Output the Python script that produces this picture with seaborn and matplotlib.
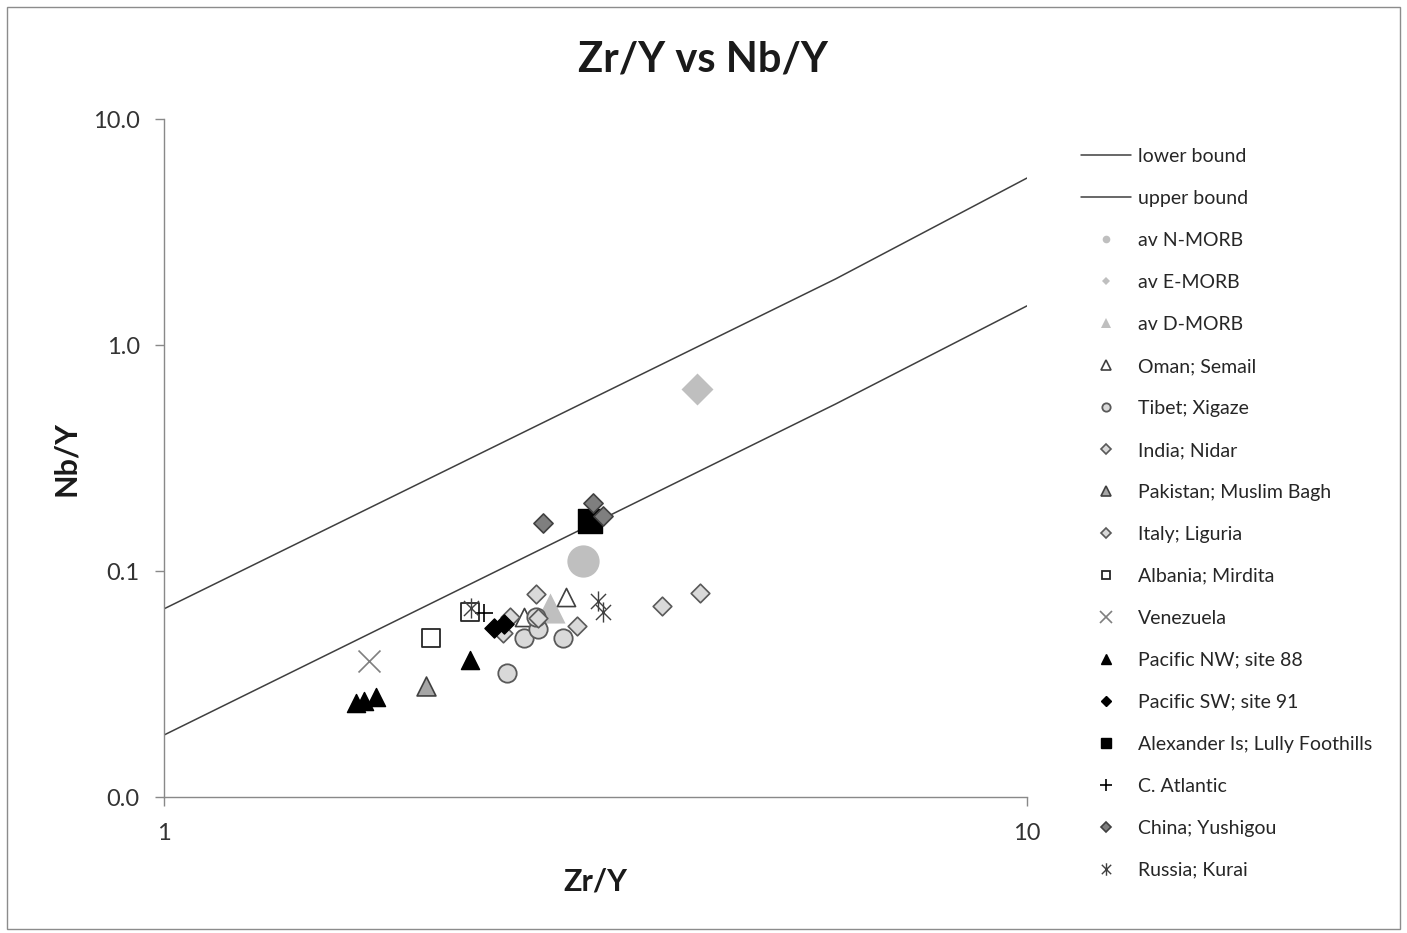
import matplotlib
matplotlib.use('Agg')
import matplotlib.pyplot as plt
import seaborn as sns
from matplotlib.lines import Line2D
from matplotlib.path import Path
from matplotlib.patches import Rectangle
import matplotlib.ticker as mticker

# ---------------- data ----------------
lower_x = [1, 6, 10]
lower_y = [0.0188, 0.548, 1.49]
upper_x = [1, 6, 10]
upper_y = [0.068, 1.96, 5.48]

nmorb_x = [3.06]
nmorb_y = [0.111]
emorb_x = [4.15]
emorb_y = [0.639]
dmorb_x = [2.80]
dmorb_y = [0.0686]
oman_x = [2.61, 2.92]
oman_y = [0.0626, 0.0767]
tibet_x = [2.61, 2.71, 2.70, 2.90, 2.50]
tibet_y = [0.0505, 0.0554, 0.0626, 0.0505, 0.0354]
india_x = [2.47, 2.52, 2.70]
india_y = [0.0532, 0.0626, 0.0791]
pakistan_x = [2.01]
pakistan_y = [0.031]
italy_x = [2.71, 3.01, 3.78, 4.18]
italy_y = [0.0619, 0.0571, 0.070, 0.0799]
albania_x = [2.04, 2.26]
albania_y = [0.0505, 0.0659]
venezuela_x = [1.73]
venezuela_y = [0.040]
pacnw_x = [1.669, 1.705, 1.76, 2.26]
pacnw_y = [0.026, 0.0266, 0.0277, 0.0404]
pacsw_x = [2.41, 2.48]
pacsw_y = [0.056, 0.0583]
alexander_x = [3.12]
alexander_y = [0.166]
atlantic_x = [2.35]
atlantic_y = [0.0650]
china_x = [2.75, 3.14, 3.23]
china_y = [0.163, 0.200, 0.175]
russia_x = [2.27, 3.18, 3.23]
russia_y = [0.0686, 0.0737, 0.0659]

y_ticks = [0.01, 0.1, 1, 10]
y_tick_labels = ["0.0", "0.1", "1.0", "10.0"]
x_ticks = [1, 10]
x_tick_labels = ["1", "10"]

# ---------------- style ----------------
sns.set_style('white')
plt.rcParams['font.family'] = ['Lato', 'DejaVu Sans']

W, H = 1407, 933
fig = plt.figure(figsize=(W / 100, H / 100), dpi=100)
ax = fig.add_axes([164 / W, 1 - 797 / H, 863 / W, 678 / H])
ax.set_xscale('log')
ax.set_yscale('log')

asterisk = Path([(0, -1), (0, 1), (-0.75, -0.75), (0.75, 0.75), (-0.75, 0.75), (0.75, -0.75)],
                [Path.MOVETO, Path.LINETO] * 3)

LINE_C = '#3f3f3f'
sns.lineplot(x=lower_x, y=lower_y, color=LINE_C, lw=1.1, ax=ax, estimator=None, sort=False)
sns.lineplot(x=upper_x, y=upper_y, color=LINE_C, lw=1.1, ax=ax, estimator=None, sort=False)

series = [
    # label, x, y, marker, s, face, edge, lw, legend ms
    ("av N-MORB", nmorb_x, nmorb_y, 'o', 540, '#bfbfbf', '#bfbfbf', 0, 5.5),
    ("av E-MORB", emorb_x, emorb_y, 'D', 265, '#bfbfbf', '#bfbfbf', 0, 4.5),
    ("av D-MORB", dmorb_x, dmorb_y, '^', 470, '#bfbfbf', '#bfbfbf', 0, 6.5),
    ("Oman; Semail", oman_x, oman_y, '^', 170, 'white', '#404040', 1.2, 6.5),
    ("Tibet; Xigaze", tibet_x, tibet_y, 'o', 175, '#d9d9d9', '#595959', 1.3, 6),
    ("India; Nidar", india_x, india_y, 'D', 90, '#d9d9d9', '#595959', 1.2, 4.8),
    ("Pakistan; Muslim Bagh", pakistan_x, pakistan_y, '^', 185, '#a6a6a6', '#404040', 1.2, 6.5),
    ("Italy; Liguria", italy_x, italy_y, 'D', 90, '#d9d9d9', '#595959', 1.2, 4.8),
    ("Albania; Mirdita", albania_x, albania_y, 's', 170, 'white', '#262626', 1.3, 6),
    ("Venezuela", venezuela_x, venezuela_y, 'x', 250, '#7f7f7f', '#7f7f7f', 1.2, 9),
    ("Pacific NW; site 88", pacnw_x, pacnw_y, '^', 170, 'black', 'black', 1, 6.5),
    ("Pacific SW; site 91", pacsw_x, pacsw_y, 'D', 95, 'black', 'black', 1, 4.8),
    ("Alexander Is; Lully Foothills", alexander_x, alexander_y, 's', 300, 'black', 'black', 1, 7),
    ("C. Atlantic", atlantic_x, atlantic_y, '+', 180, 'black', 'black', 1.2, 9),
    ("China; Yushigou", china_x, china_y, 'D', 95, '#7f7f7f', '#404040', 1.2, 4.8),
    ("Russia; Kurai", russia_x, russia_y, asterisk, 210, '#404040', '#404040', 1.0, 9),
]

for i, (lab, xs, ys, mk, s, fc, ec, lw, _) in enumerate(series):
    sns.scatterplot(x=xs, y=ys, marker=mk, s=s, color=fc, edgecolor=ec,
                    linewidth=lw, ax=ax, legend=False, zorder=3 + i * 0.01)

ax.set_xlim(1, 10)
ax.set_ylim(0.01, 10)
ax.set_xticks(x_ticks, labels=x_tick_labels)
ax.set_yticks(y_ticks, labels=y_tick_labels)
ax.xaxis.set_minor_locator(mticker.NullLocator())
ax.yaxis.set_minor_locator(mticker.NullLocator())

SP = '#898989'
for side in ['top', 'right']:
    ax.spines[side].set_visible(False)
for side in ['left', 'bottom']:
    ax.spines[side].set_color(SP)
    ax.spines[side].set_linewidth(1.0)
ax.tick_params(axis='both', which='major', direction='out', length=6.5, width=1,
               color=SP, labelsize=17, labelcolor='#333333', left=True, bottom=True)
ax.tick_params(axis='y', pad=11)
ax.tick_params(axis='x', pad=12)

ax.set_xlabel("Zr/Y", fontsize=22, fontweight='bold', color='#1a1a1a')
ax.set_ylabel("Nb/Y", fontsize=22, fontweight='bold', color='#1a1a1a')
ax.xaxis.label.set_va('center')
ax.yaxis.label.set_va('center')
ax.xaxis.set_label_coords(0.5, (797 - 881) / 678)
ax.yaxis.set_label_coords((66 - 164) / 863, 0.5)

fig.text(703 / W, 1 - 60 / H, "Zr/Y vs Nb/Y", fontsize=30, fontweight='bold',
         ha='center', va='center', color='#1a1a1a')

# legend
handles = [Line2D([], [], color=LINE_C, lw=1.1), Line2D([], [], color=LINE_C, lw=1.1)]
labels = ["lower bound", "upper bound"]
for (lab, xs, ys, mk, s, fc, ec, lw, lms) in series:
    handles.append(Line2D([], [], ls='', marker=mk, markersize=lms, markerfacecolor=fc,
                          markeredgecolor=ec, markeredgewidth=max(lw, 0.8) if lw else 0))
    labels.append(lab)

fig.legend(handles, labels, loc='upper left', bbox_to_anchor=(1081 / W, 1 - 148 / H),
           frameon=False, fontsize=14, labelspacing=1.285, handlelength=2.57,
           handletextpad=0.38, borderpad=0, borderaxespad=0, labelcolor='#262626')

fig.patches.append(Rectangle((7 / W, 4 / H), 1393 / W, 922 / H, transform=fig.transFigure,
                             fill=False, edgecolor='#8c8c8c', lw=1.0))

fig.savefig('out.png', dpi=100)
